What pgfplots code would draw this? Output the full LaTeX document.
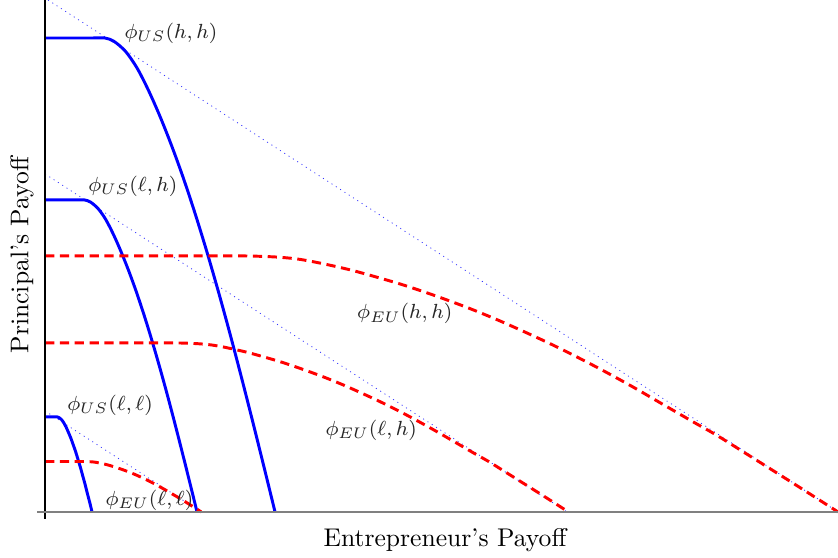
\documentclass[border=0pt]{standalone}
\usepackage{pgfplots}
\pgfplotsset{compat=1.18}
\begin{document}
\begin{tikzpicture}[
    us/.style={blue, line width=1.15pt, smooth},
    eu/.style={red, line width=1.15pt, dash pattern=on 3.6pt off 2.2pt, smooth},
    tang/.style={blue!80, line width=0.3pt, dash pattern=on 0.4pt off 1.6pt},
    lab/.style={black!85, anchor=west, inner sep=0pt, font=\footnotesize},
  ]
  \path[use as bounding box] (-17.6pt,-18pt) rectangle (309.8pt,200pt);
  \begin{axis}[
      at={(0,0)}, anchor=south west,
      scale only axis,
      width=309.8pt, height=200pt,
      xmin=0, xmax=793, ymin=0, ymax=512,
      axis lines=none,
      clip=false,
    ]
    % tangent lines
    \addplot[tang] coordinates {(3,512) (793,0)};
    \addplot[tang] coordinates {(0,338) (522,0)};
    \addplot[tang] coordinates {(0,101) (156,0)};

    % phi_US curves
    \addplot[us] coordinates {
      (0,474) (45,474) (59.8,474) (69,470.6) (80.5,460.6) (92,444.0) (103.5,421.5)
      (115,395.5) (126.5,366.5) (138,334.8) (149.5,300.2) (161,263.0)
      (172.5,223.4) (184,181.7) (195.5,138.1) (207,93.0) (218.5,46.8) (230,0)
    };
    \addplot[us] coordinates {
      (0,312) (30,312) (39.5,312) (45.6,309.8) (53.2,303.2) (60.8,292.3) (68.4,277.5)
      (76,260.3) (83.6,241.3) (91.2,220.4) (98.8,197.6) (106.4,173.1)
      (114,147.0) (121.6,119.6) (129.2,90.9) (136.8,61.2) (144.4,30.8) (152,0)
    };
    \addplot[us] coordinates {
      (0,95) (8,95) (12.2,95) (14.1,94.3) (16.5,92.3) (18.8,89.0) (21.2,84.5)
      (23.5,79.3) (25.9,73.5) (28.2,67.1) (30.6,60.2) (32.9,52.7)
      (35.3,44.8) (37.6,36.4) (40,27.7) (42.3,18.6) (44.7,9.4) (47,0)
    };

    % phi_EU curves
    \addplot[eu] coordinates {
      (0,256) (150,256) (200,256) (230,255) (252,253) (272,249.5) (295,244.5)
      (315,239.5) (355,228) (388,217) (422,204.5) (455,191) (495,173)
      (523,159.5) (555,143) (587,125.5) (618,107.5) (650,89) (672,76.5)
      (700,59) (750,27.5) (793,0)
    };
    \addplot[eu] coordinates {
      (0,169) (100,169) (132,169) (151.8,168.3) (166.3,167) (179.5,164.7) (194.7,161.4)
      (207.9,158.1) (234.3,150.5) (256.1,143.2) (278.5,135) (300.3,126.1)
      (326.7,114.2) (345.2,105.3) (366.3,94.4) (387.4,82.8) (407.9,71)
      (429,58.7) (443.5,50.5) (462,38.9) (495,18.2) (523.4,0)
    };
    \addplot[eu] coordinates {
      (0,50.4) (30,50.4) (39.4,50.4) (49.6,49.8) (62,47.2) (76.4,42.7)
      (89.6,37.6) (103,31.4) (115.6,24.7) (128,17.5) (137.9,11.6)
      (147.8,5.4) (156.2,0)
    };

    % axes
    \draw[black, line width=0.45pt] (axis cs:0,-7) -- (axis cs:0,512);
    \draw[black!50, line width=0.7pt] (axis cs:-8,0) -- (axis cs:793,0);

    % labels
    \node[lab] at (axis cs:79,479) {$\phi_{US}(h,h)$};
    \node[lab] at (axis cs:42.7,326) {$\phi_{US}(\ell,h)$};
    \node[lab] at (axis cs:21.7,106.5) {$\phi_{US}(\ell,\ell)$};
    \node[lab] at (axis cs:311.7,198.5) {$\phi_{EU}(h,h)$};
    \node[lab] at (axis cs:280,81.5) {$\phi_{EU}(\ell,h)$};
    \node[lab] at (axis cs:60,11.5) {$\phi_{EU}(\ell,\ell)$};

    \node at (axis cs:400,-28) {Entrepreneur's Payoff};
    \node[rotate=90] at (axis cs:-23,257) {Principal's Payoff};
  \end{axis}
\end{tikzpicture}
\end{document}
